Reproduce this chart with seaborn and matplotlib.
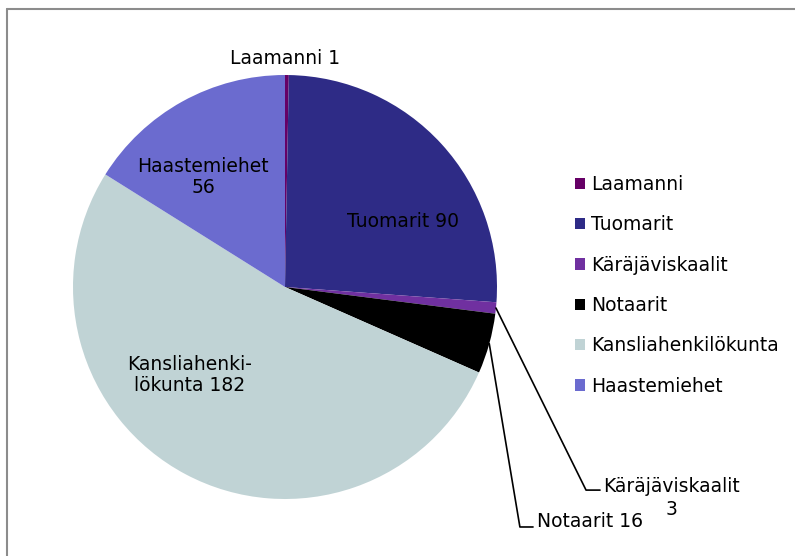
import numpy as np
import seaborn as sns
import matplotlib.pyplot as plt
from matplotlib.lines import Line2D

# henkilöstö
ryhmat = ["Laamanni", "Tuomarit", "Käräjäviskaalit", "Notaarit",
          "Kansliahenkilökunta", "Haastemiehet"]
maarat = [1, 90, 3, 16, 182, 56]
varit = ["#660066", "#2E2B86", "#7030A0", "#000000", "#C0D3D5", "#6B6BCF"]

sns.set_theme(style="white")
plt.rcParams['font.family'] = ['DejaVu Sans']
plt.rcParams['text.color'] = 'black'

fig = plt.figure(figsize=(7.95, 5.56), dpi=100)
ax = fig.add_axes([73 / 795, 57 / 556, 424 / 795, 424 / 556])
palette = sns.color_palette(varit)

wedges, _ = ax.pie(maarat, colors=palette, startangle=90, counterclock=False,
                   radius=1, wedgeprops=dict(linewidth=0))
ax.set_xlim(-1, 1)
ax.set_ylim(-1, 1)
ax.set_aspect('equal')
ax.axis('off')

fs = 13.5
ax.text(0, 1.08, f"{ryhmat[0]} {maarat[0]}", ha='center', va='center', fontsize=fs, clip_on=False)
ax.text(0.557, 0.311, f"{ryhmat[1]} {maarat[1]}", ha='center', va='center', fontsize=fs)
ax.text(-0.387, 0.519, f"{ryhmat[5]}\n{maarat[5]}", ha='center', va='center', fontsize=fs,
        linespacing=1.15)
ax.text(-0.448, -0.415, f"Kansliahenki-\nlökunta {maarat[4]}", ha='center', va='center',
        fontsize=fs, linespacing=1.15)


def reuna(w):
    # wedgen keskikohta reunalla
    a = np.deg2rad((w.theta1 + w.theta2) / 2)
    return np.cos(a), np.sin(a)


# Notaarit leader
x0, y0 = reuna(wedges[3])
ax.plot([x0, 1.108, 1.17], [y0, -1.132, -1.132], color='black', lw=1.2, clip_on=False)
ax.text(1.189, -1.104, f"{ryhmat[3]} {maarat[3]}", ha='left', va='center', fontsize=fs,
        clip_on=False)

# Käräjäviskaalit leader
x0, y0 = reuna(wedges[2])
ax.plot([x0, 1.42, 1.486], [y0, -0.958, -0.958], color='black', lw=1.2, clip_on=False)
ax.text(1.825, -0.943, ryhmat[2], ha='center', va='center', fontsize=fs, clip_on=False)
ax.text(1.825, -1.05, str(maarat[2]), ha='center', va='center', fontsize=fs, clip_on=False)

fig.legend(wedges, ryhmat, loc='upper left', bbox_to_anchor=(558 / 795, 1 - 158 / 556),
           frameon=False, fontsize=fs, handlelength=0.55, handleheight=0.55,
           handletextpad=0.3, labelspacing=1.14)

# kehys
fig.add_artist(Line2D([7 / 795, 7 / 795], [0, 1 - 9 / 556], color='#8c8c8c', lw=1.5))
fig.add_artist(Line2D([7 / 795, 1], [1 - 9 / 556, 1 - 9 / 556], color='#8c8c8c', lw=1.5))

fig.savefig("out.png", dpi=100)
